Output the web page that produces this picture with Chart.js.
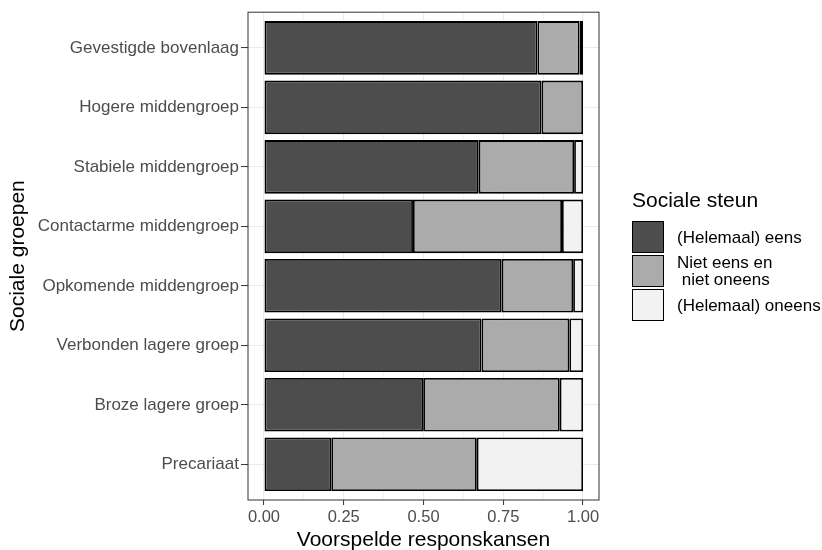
<!DOCTYPE html>
<html>
<head>
<meta charset="utf-8">
<script src="https://cdn.jsdelivr.net/npm/chart.js@4.4.1/dist/chart.umd.min.js"></script>
<style>
    body { margin: 0; background: #fff; }
    #wrap { position: relative; width: 822px; height: 550px; }
    #legend {
        position: absolute; left: 632px; top: 188px;
        font-family: 'Liberation Sans', Arial, sans-serif; color: #000;
    }
    #legend .title { font-size: 21px; line-height: 24px; margin-bottom: 8px; }
    #legend .row { display: flex; align-items: center; height: 34px; }
    #legend .key { width: 32px; height: 32px; box-sizing: border-box; border: 1.5px solid #000; }
    #legend .lab { margin-left: 13px; font-size: 17px; line-height: 17px; white-space: pre; }
</style>
</head>
<body>
<div id="wrap">
    <canvas id="chart" width="822" height="550"></canvas>
    <div id="legend"></div>
</div>
<script>
// Social groups, top to bottom
const groups = [
    'Gevestigde bovenlaag',
    'Hogere middengroep',
    'Stabiele middengroep',
    'Contactarme middengroep',
    'Opkomende middengroep',
    'Verbonden lagere groep',
    'Broze lagere groep',
    'Precariaat'
];

// Predicted response probabilities per answer category
const eens = [0.857, 0.870, 0.673, 0.467, 0.745, 0.682, 0.499, 0.211];
const neutraal = [0.132, 0.130, 0.299, 0.467, 0.224, 0.275, 0.428, 0.456];
const oneens = [0.011, 0.000, 0.028, 0.066, 0.031, 0.043, 0.073, 0.333];

// x grid: majors get a label, minors only a thin line
const xTicks = [0, 0.125, 0.25, 0.375, 0.5, 0.625, 0.75, 0.875, 1];
const xMajor = [0, 0.25, 0.5, 0.75, 1];

const seriesLabels = ['(Helemaal) eens', 'Niet eens en\n niet oneens', '(Helemaal) oneens'];
const seriesColors = ['#4D4D4D', '#ABABAB', '#F2F2F2'];
const seriesValues = [eens, neutraal, oneens];

const FONT = "'Liberation Sans', Arial, sans-serif";
const isMajor = v => xMajor.some(m => Math.abs(m - v) < 1e-9);

// Panel border on top of the bars (theme_bw look)
const panelBorder = {
    id: 'panelBorder',
    afterDatasetsDraw(chart) {
        const { ctx, chartArea: a } = chart;
        ctx.save();
        ctx.strokeStyle = '#333333';
        ctx.lineWidth = 1;
        ctx.strokeRect(a.left, a.top, a.right - a.left, a.bottom - a.top);
        ctx.restore();
    }
};

const datasets = seriesLabels.map((label, k) => ({
    label: label,
    data: seriesValues[k].map((v, i) => ({ x: v, y: i })),
    backgroundColor: seriesColors[k],
    borderColor: '#000000',
    borderWidth: 1.8,
    borderSkipped: false,
    barPercentage: 0.9,
    categoryPercentage: 1
}));

const chart = new Chart(document.getElementById('chart'), {
    type: 'bar',
    data: { datasets: datasets },
    plugins: [panelBorder],
    options: {
        indexAxis: 'y',
        responsive: false,
        animation: false,
        layout: { padding: { top: 11, right: 223, left: 0, bottom: 0 } },
        plugins: {
            legend: { display: false },
            tooltip: { enabled: false }
        },
        scales: {
            x: {
                type: 'linear',
                stacked: true,
                min: -0.05,
                max: 1.05,
                afterBuildTicks: s => { s.ticks = xTicks.map(v => ({ value: v })); },
                afterFit: s => { s.height = 50; },
                border: { display: false },
                grid: {
                    color: '#EBEBEB',
                    lineWidth: c => isMajor(c.tick.value) ? 1.1 : 0.55,
                    tickColor: c => isMajor(c.tick.value) ? '#333333' : 'rgba(0,0,0,0)',
                    tickLength: 5,
                    tickWidth: 1
                },
                ticks: {
                    autoSkip: false,
                    maxRotation: 0,
                    padding: 3,
                    color: '#4D4D4D',
                    font: { family: FONT, size: 16.5 },
                    callback: v => isMajor(v) ? v.toFixed(2) : ''
                },
                title: {
                    display: true,
                    text: 'Voorspelde responskansen',
                    color: '#000',
                    font: { family: FONT, size: 21 },
                    padding: { top: 0, bottom: -3 }
                }
            },
            y: {
                type: 'linear',
                stacked: true,
                reverse: true,
                offset: false,
                min: -0.6,
                max: groups.length - 0.4,
                afterBuildTicks: s => { s.ticks = groups.map((g, i) => ({ value: i })); },
                afterFit: s => { s.width = 248; },
                border: { display: false },
                grid: {
                    offset: false,
                    color: '#EBEBEB',
                    lineWidth: 1.1,
                    tickColor: '#333333',
                    tickLength: 7,
                    tickWidth: 1
                },
                ticks: {
                    autoSkip: false,
                    padding: 2,
                    color: '#4D4D4D',
                    font: { family: FONT, size: 17 },
                    callback: v => groups[v]
                },
                title: {
                    display: true,
                    text: 'Sociale groepen',
                    color: '#000',
                    font: { family: FONT, size: 21 },
                    padding: { top: 6 }
                }
            }
        }
    }
});

// Legend built from the chart's own datasets
function renderLegend() {
    const box = document.getElementById('legend');
    box.innerHTML = '<div class="title">Sociale steun</div>';
    chart.data.datasets.forEach(ds => {
        const row = document.createElement('div');
        row.className = 'row';
        row.innerHTML = `<div class="key" style="background:${ds.backgroundColor}"></div>` +
            `<div class="lab"></div>`;
        row.querySelector('.lab').textContent = ds.label;
        box.appendChild(row);
    });
}
renderLegend();
</script>
</body>
</html>
